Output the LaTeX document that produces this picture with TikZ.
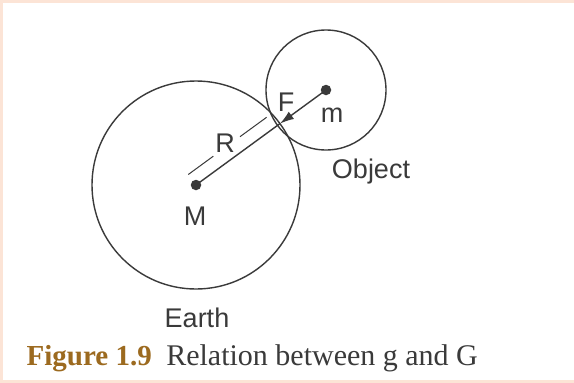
\documentclass[tikz,border=0pt]{standalone}
\usepackage{fontspec}
\setmainfont{Liberation Serif}
\newfontfamily\labelfont{Liberation Sans}
\usetikzlibrary{arrows.meta}

\definecolor{framepeach}{HTML}{FCE4D6}
\definecolor{capbrown}{HTML}{9C6A1F}
\definecolor{inkgray}{HTML}{3A3A3A}

\tikzset{
  dot/.style={circle, fill=inkgray, inner sep=0pt, minimum size=10.5pt},
  lbl/.style={font=\labelfont\fontsize{27}{32}\selectfont, text=inkgray, inner sep=0pt, anchor=base},
}

\begin{document}
\begin{tikzpicture}[x=1pt, y=-1pt, line width=1.4pt, draw=inkgray]

  % ── page frame (peach border, white sheet) ──
  \fill[framepeach] (0,0) rectangle (574,383);
  \fill[white] (3,3) rectangle (574,380);

  % ── centres of Earth and object ──
  \node[dot] (M) at (196,185) {};
  \node[dot] (m) at (326,90) {};

  % ── the two circles (radii 104 and 60, nearly touching) ──
  \draw[inkgray] (M) circle (104);
  \draw[inkgray] (m) circle (60);

  % ── touching point on the line of centres ──
  \coordinate (C) at (280,123.6);

  % ── radius line and the force arrow ──
  \draw[inkgray] (M.center) -- (C);
  \draw[inkgray, -{Latex[length=14pt,width=9pt]}] (m.center) -- (C);

  % ── R dimension line, offset 13 to the upper left, broken for the label ──
  \coordinate (r0) at (188.3,174.5);
  \coordinate (r1) at (213.3,156.2);
  \coordinate (r2) at (240.0,136.7);
  \coordinate (r3) at (266.6,117.3);
  \draw[inkgray, line width=1pt] (r0) -- (r1);
  \draw[inkgray, line width=1pt] (r2) -- (r3);

  % ── labels ──
  \node[lbl] (lR) at (225,152) {R};
  \node[lbl] (lF) at (286,111) {F};
  \node[lbl] (lm) at (332,122) {m};
  \node[lbl] (lObj) at (371,178) {Object};
  \node[lbl] (lM) at (195,225) {M};
  \node[lbl] (lEarth) at (197,327) {Earth};

  % ── caption ──
  \node[anchor=base west, inner sep=0pt, font=\fontsize{29}{34}\selectfont] (cap) at (26,365)
    {\textcolor{capbrown}{\bfseries Figure 1.9}\hspace{0.5em}\textcolor{inkgray}{\fontsize{30}{34}\selectfont Relation between g and G}};

  \pgfresetboundingbox
  \path[use as bounding box] (0,0) rectangle (574,383);
\end{tikzpicture}
\end{document}
